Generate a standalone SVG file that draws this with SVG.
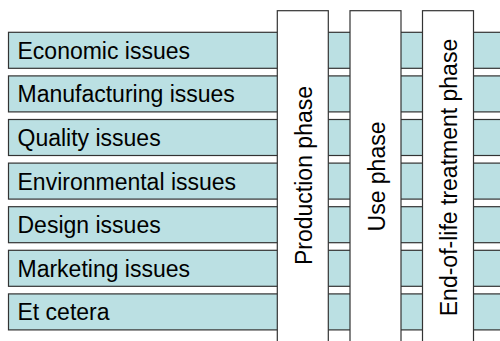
<svg xmlns="http://www.w3.org/2000/svg" width="500" height="341" viewBox="0 0 500 341">
<style>
.bar{fill:#BBE0E3;stroke:#333;stroke-width:1.2}
.col{fill:#fff;stroke:#333;stroke-width:1.2}
text{font-family:"Liberation Sans",Arial,sans-serif;font-size:23px;fill:#000}
.v{text-anchor:middle}
</style>
<rect width="500" height="341" fill="#fff"/>
<g id="issues">
<g id="economic"><rect class="bar" x="8.5" y="32.3" width="500" height="36"/><text x="17.5" y="58.8">Economic issues</text></g>
<g id="manufacturing"><rect class="bar" x="8.5" y="75.9" width="500" height="36"/><text x="17.5" y="102.4">Manufacturing issues</text></g>
<g id="quality"><rect class="bar" x="8.5" y="119.5" width="500" height="36"/><text x="17.5" y="146">Quality issues</text></g>
<g id="environmental"><rect class="bar" x="8.5" y="163.1" width="500" height="36"/><text x="17.5" y="189.6">Environmental issues</text></g>
<g id="design"><rect class="bar" x="8.5" y="206.7" width="500" height="36"/><text x="17.5" y="233.2">Design issues</text></g>
<g id="marketing"><rect class="bar" x="8.5" y="250.3" width="500" height="36"/><text x="17.5" y="276.8">Marketing issues</text></g>
<g id="etcetera"><rect class="bar" x="8.5" y="293.9" width="500" height="36"/><text x="17.5" y="320.4">Et cetera</text></g>
</g>
<g id="phases">
<g id="production"><rect class="col" x="277.3" y="10.7" width="51" height="340"/><text class="v" transform="translate(311.5,175.5) rotate(-90)">Production phase</text></g>
<g id="use"><rect class="col" x="350" y="10.7" width="51" height="340"/><text class="v" transform="translate(384.5,176.5) rotate(-90)">Use phase</text></g>
<g id="endoflife"><rect class="col" x="422.5" y="10.7" width="51" height="340"/><text class="v" transform="translate(457,177.5) rotate(-90)">End-of-life treatment phase</text></g>
</g>
<g id="connectors"/>
</svg>
